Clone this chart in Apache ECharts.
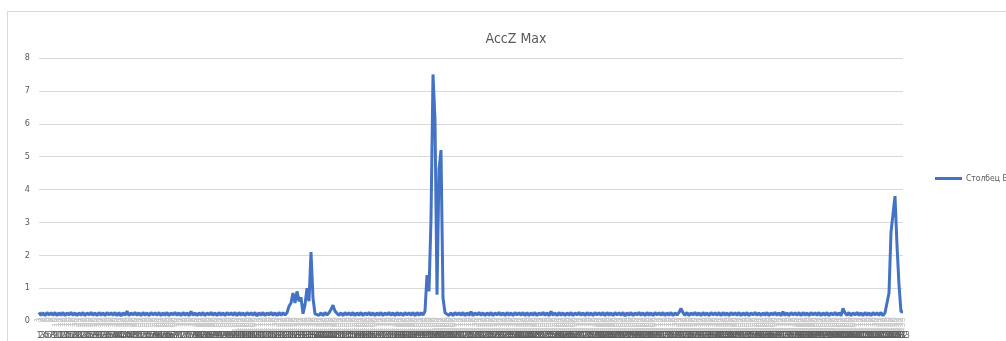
<!DOCTYPE html>
<html>
<head>
<meta charset="utf-8">
<script src="https://cdn.jsdelivr.net/npm/echarts@6/dist/echarts.min.js"></script>
<style>
html,body{margin:0;padding:0;background:#fff;overflow:hidden;}
#frame{position:absolute;left:7px;top:11px;width:1100px;height:400px;border:1px solid #d9d9d9;box-sizing:border-box;}
#chart{position:absolute;left:0;top:0;width:1006px;height:341px;}
</style>
</head>
<body>
<div id="frame"></div>
<div id="chart"></div>
<script>
// Series values in segments (left to right)
const base0 = [
0.26,0.17,0.25,0.16,0.26,0.18,0.25,0.17,0.26,0.16,0.25,0.17,0.26,0.16,0.25,0.18,0.26,0.17,0.25,0.16,
0.25,0.17,0.26,0.16,0.25,0.18,0.26,0.17,0.25,0.16,0.26,0.17,0.25,0.16,0.26,0.18,0.25,0.17,0.26,0.16,
0.26,0.15,0.25,0.17,0.30,0.16,0.25,0.18,0.26,0.17,0.25,0.16,0.26,0.17,0.25,0.16,0.26,0.18,0.25,0.17,
0.26,0.16,0.25,0.17,0.26,0.16,0.25,0.18,0.26,0.17,0.25,0.16,0.26,0.17,0.25,0.16,0.29,0.17,0.25,0.16,
0.25,0.17,0.26,0.16,0.25,0.18,0.26,0.17,0.25,0.16,0.26,0.17,0.25,0.16,0.26,0.18,0.25,0.17,0.26,0.16,
0.26,0.17,0.25,0.16,0.26,0.18,0.25,0.17,0.26,0.15,0.25,0.17,0.26,0.16,0.25,0.18,0.26,0.17,0.25,0.16,
0.26,0.17,0.25,0.18];
const peak1 = [0.25,0.45,0.55,0.85,0.55,0.90,0.60,0.72,0.22,0.50,1.00,0.60,2.10,0.70,0.22];
const base1 = [0.26,0.17,0.25,0.16,0.26,0.18,0.25];
const bump1 = [0.35,0.48,0.30];
const base2 = [
0.26,0.17,0.25,0.16,0.26,0.18,0.25,0.17,0.26,0.16,0.25,0.17,0.26,0.16,0.25,0.18,0.26,0.17,0.25,0.16,
0.25,0.17,0.26,0.16,0.25,0.18,0.26,0.17,0.25,0.16,0.26,0.17,0.25,0.16,0.26,0.18,0.25,0.17,0.26,0.16,
0.26,0.17,0.25,0.18];
const peak2 = [0.30,1.40,0.90,3.10,7.50,6.10,0.80,4.60,5.20,0.70,0.25];
const base3 = [
0.26,0.17,0.25,0.16,0.26,0.18,0.25,0.17,0.26,0.16,0.25,0.17,0.28,0.16,0.25,0.18,0.26,0.17,0.25,0.16,
0.25,0.17,0.26,0.16,0.25,0.18,0.26,0.17,0.25,0.16,0.26,0.17,0.25,0.16,0.26,0.18,0.25,0.17,0.26,0.16,
0.26,0.16,0.25,0.17,0.26,0.16,0.25,0.18,0.26,0.17,0.25,0.16,0.29,0.17,0.25,0.16,0.26,0.17,0.25,0.16,
0.25,0.17,0.26,0.16,0.25,0.18,0.26,0.17,0.25,0.16,0.26,0.17,0.25,0.16,0.26,0.18,0.25,0.17,0.26,0.16,
0.26,0.17,0.25,0.16,0.26,0.18,0.25,0.17,0.26,0.15,0.25,0.17,0.26,0.16,0.25,0.18,0.26,0.17,0.25,0.16,
0.26,0.17,0.25,0.16,0.26,0.18,0.25,0.17,0.26,0.16,0.25,0.17,0.26,0.16,0.25,0.18,0.26];
const bump2 = [0.38];
const base4 = [
0.25,0.17,0.26,0.16,0.25,0.18,0.26,0.17,0.25,0.16,0.26,0.17,0.25,0.16,0.26,0.18,0.25,0.17,0.26,0.16,
0.26,0.17,0.25,0.16,0.26,0.18,0.25,0.17,0.26,0.16,0.25,0.17,0.26,0.16,0.25,0.18,0.26,0.17,0.25,0.16,
0.25,0.17,0.26,0.16,0.25,0.18,0.26,0.17,0.25,0.16,0.28,0.17,0.25,0.16,0.26,0.18,0.25,0.17,0.26,0.16,
0.26,0.17,0.25,0.16,0.26,0.18,0.25,0.17,0.26,0.16,0.25,0.17,0.26,0.16,0.25,0.18,0.26,0.17,0.25,0.16];
const bump3 = [0.38];
const base5 = [0.25,0.17,0.26,0.16,0.25,0.18,0.26,0.17,0.25,0.16,0.26,0.17,0.25,0.16,0.26,0.18,0.25,0.17,0.26,0.16];
const peak3 = [0.25,0.30,0.85,2.70,2.65,3.80,2.30,1.10,0.28,0.28];

const values = [].concat(base0, peak1, base1, bump1, base2, peak2, base3, bump2, base4, bump3, base5, peak3);
const categories = values.map((v, i) => String(i + 1));
const yTicks = { min: 0, max: 8, interval: 1 };
const seriesName = 'Столбец B';
const titleText = 'AccZ Max';

const font = '"Liberation Sans Narrow", "DejaVu Sans Condensed", "Liberation Sans", sans-serif';
const chart = echarts.init(document.getElementById('chart'), null, { renderer: 'canvas' });
chart.setOption({
  animation: false,
  backgroundColor: 'transparent',
  title: {
    text: titleText, left: 511, top: 27, textAlign: 'center',
    textStyle: { fontFamily: font, fontSize: 14, fontWeight: 'normal', color: '#595959' }
  },
  legend: {
    left: 935, top: 174, padding: 0, icon: 'rect', itemWidth: 27, itemHeight: 3,
    textStyle: { fontFamily: font, fontSize: 8.5, color: '#595959', padding: [0, 0, 0, -1] },
    data: [seriesName]
  },
  grid: { left: 39, right: 103, top: 58, bottom: 20, containLabel: false },
  xAxis: [{
    type: 'category', data: categories, boundaryGap: false,
    axisLine: { show: true, lineStyle: { color: '#d9d9d9' } },
    axisTick: { show: false },
    axisLabel: { interval: 0, rotate: 90, margin: -4, fontSize: 9, fontFamily: font, color: '#c9c9c9', hideOverlap: false }
  }, {
    type: 'category', data: categories, boundaryGap: false, position: 'bottom', offset: 9,
    axisLine: { show: false }, axisTick: { show: false },
    axisLabel: { interval: 0, margin: 2, fontSize: 8, fontFamily: font, color: '#5e5e5e', hideOverlap: false }
  }],
  yAxis: {
    type: 'value', min: yTicks.min, max: yTicks.max, interval: yTicks.interval,
    axisLine: { show: false }, axisTick: { show: false },
    axisLabel: { margin: 9, fontSize: 9, fontFamily: font, color: '#595959' },
    splitLine: { lineStyle: { color: '#d9d9d9', width: 1 } }
  },
  series: [{
    name: seriesName, type: 'line', data: values, xAxisIndex: 0,
    showSymbol: false, symbol: 'none',
    lineStyle: { color: '#4472c4', width: 3 },
    itemStyle: { color: '#4472c4' }
  }]
});
</script>
</body>
</html>
